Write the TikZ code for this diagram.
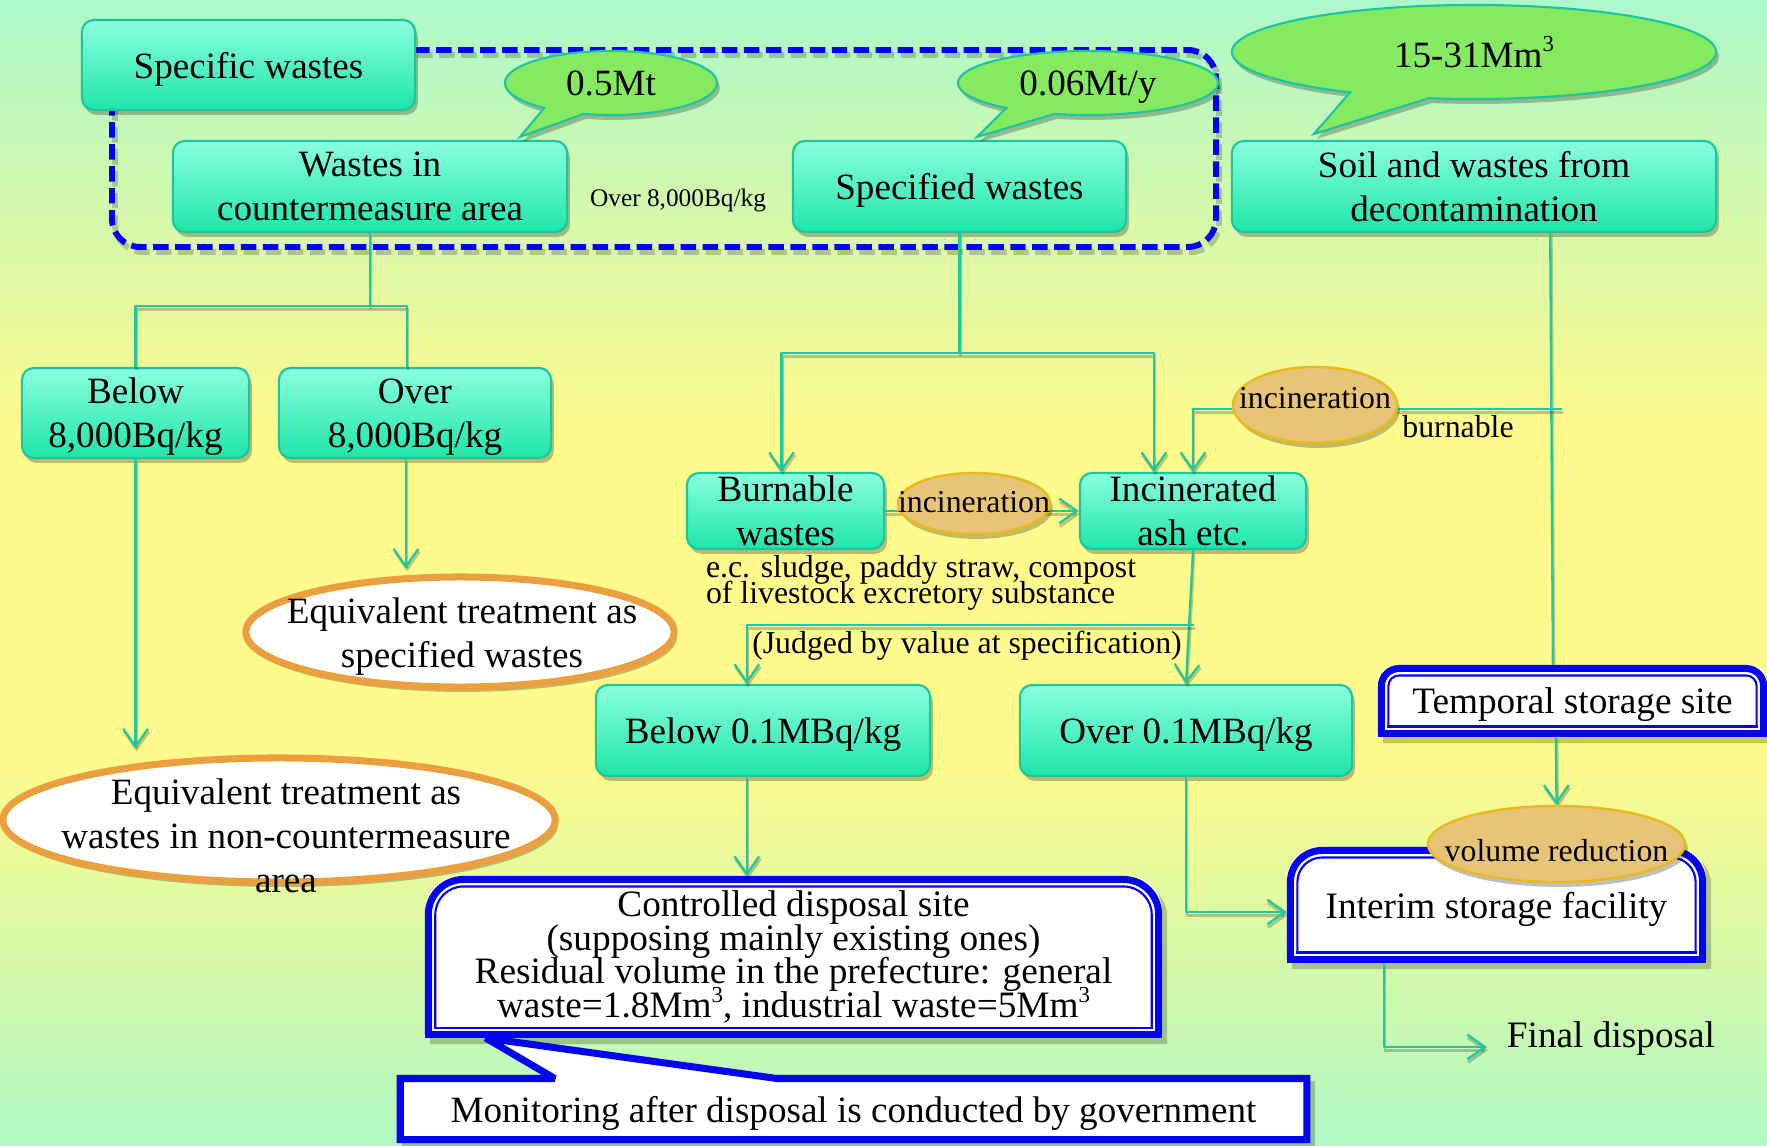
\documentclass[tikz,border=0pt]{standalone}
\usepackage{fontspec}
\setmainfont{Liberation Serif}
\usetikzlibrary{arrows.meta,calc,shapes.geometric,shapes.callouts,shadows}

\definecolor{bgtop}{RGB}{172,248,202}
\definecolor{bgmid}{RGB}{255,250,140}
\definecolor{bgbot}{RGB}{176,249,196}
\definecolor{tealtop}{RGB}{138,255,222}
\definecolor{tealbot}{RGB}{30,230,168}
\definecolor{tealedge}{RGB}{28,196,160}
\definecolor{linkc}{RGB}{30,200,160}
\definecolor{leafg}{RGB}{134,234,96}
\definecolor{tanfill}{RGB}{232,196,120}
\definecolor{tanedge}{RGB}{232,186,30}
\definecolor{orng}{RGB}{234,160,62}
\definecolor{frameblue}{RGB}{4,4,240}

% the picture's box maps onto 25bp..75bp of the shading
\pgfdeclareverticalshading{backdrop}{100bp}{color(0bp)=(bgbot); color(25bp)=(bgbot); color(42bp)=(bgmid); color(56bp)=(bgmid); color(75bp)=(bgtop); color(100bp)=(bgtop)}

\pgfdeclarelayer{back}
\pgfdeclarelayer{boxes}
\pgfdeclarelayer{front}
\pgfsetlayers{back,boxes,main,front}

\newcommand\mainfs{\fontsize{10.55}{12.5}\selectfont}
\newcommand\smallfs{\fontsize{9.05}{10.5}\selectfont}
\newcommand\notefs{\fontsize{7.2}{8.5}\selectfont}
\newcommand\boxfs{\fontsize{10.6}{12}\selectfont}
\newcommand\cdfs{\fontsize{10.6}{9.6}\selectfont\lineskiplimit=-20pt}
\newcommand\ecfs{\fontsize{9.05}{7.6}\selectfont\lineskiplimit=-20pt}

% white box with thick/thin blue border, rounded top corners, square bottom
\newcommand\dblframe[3]{%
  \fill[black,opacity=0.22,rounded corners=#2] ($(#1.south west)+(5,6)$) -- ($(#1.north west)+(5,6)$) -- ($(#1.north east)+(5,6)$) -- ($(#1.south east)+(5,6)$);
  \fill[white,rounded corners=#2] (#1.south west) -- (#1.north west) -- (#1.north east) -- (#1.south east);
  \draw[frameblue,line width=2pt,rounded corners=#2] ($(#1.south west)+(3.5,-3.5)$) -- ($(#1.north west)+(3.5,3.5)$) -- ($(#1.north east)+(-3.5,3.5)$) -- ($(#1.south east)+(-3.5,-3.5)$);
  \draw[frameblue,line width=2pt,line cap=rect] ($(#1.south west)+(3.5,-3.5)$) -- ($(#1.south east)+(-3.5,-3.5)$);
  \draw[frameblue,line width=0.6pt,rounded corners=#3] ($(#1.south west)+(10.5,-10.5)$) -- ($(#1.north west)+(10.5,10.5)$) -- ($(#1.north east)+(-10.5,10.5)$) -- ($(#1.south east)+(-10.5,-10.5)$);
  \draw[frameblue,line width=0.6pt,line cap=rect] ($(#1.south west)+(10.5,-10.5)$) -- ($(#1.south east)+(-10.5,-10.5)$);
}

\tikzset{
  softshadow/.style={drop shadow={shadow xshift=0.8pt, shadow yshift=-1.4pt, opacity=0.25, fill=black}},
  tbox/.style={rectangle, rounded corners=3.4pt, draw=tealedge, line width=0.6pt, top color=tealtop, bottom color=tealbot, inner sep=0pt, align=center, font=\mainfs, text depth=0pt, softshadow},
  bubble/.style={ellipse callout, draw=tealedge, line width=0.6pt, fill=leafg, inner sep=0pt, font=\mainfs, text depth=0pt, softshadow},
  tanell/.style={ellipse, draw=tanedge, line width=0.7pt, fill=tanfill, inner sep=0pt, font=\smallfs, softshadow},
  eqell/.style={ellipse, draw=orng, line width=2pt, fill=white, inner sep=0pt, softshadow},
  plain/.style={inner sep=0pt, outer sep=0pt},
  flow/.style={draw=linkc, line width=0.65pt, line join=round, preaction={draw=black, draw opacity=0.22, line width=0.8pt, transform canvas={xshift=0.3pt, yshift=-0.9pt}}},
  arr/.style={-{Straight Barb[length=5pt,width=7pt]}},
}

\begin{document}
\begin{tikzpicture}[x=0.01cm, y=-0.01cm]
\begin{pgfonlayer}{back}
  \fill[shading=backdrop] (0,0) rectangle (1767,1146);
\end{pgfonlayer}
\useasboundingbox (0,0) rectangle (1767,1146);

% dashed group frame
\begin{pgfonlayer}{boxes}
  \draw[black, opacity=0.2, line width=1.7pt, dash pattern=on 4.4pt off 1.85pt, rounded corners=8pt] (115,55) rectangle (1219,252);
  \draw[frameblue, line width=1.7pt, dash pattern=on 4.4pt off 1.85pt, rounded corners=8pt] (112,50) rectangle (1216,247);
\end{pgfonlayer}

% teal boxes
\node[tbox, minimum width=3.33cm, minimum height=0.90cm] (SPW) at (248.5,65) {Specific wastes};
\node[tbox, minimum width=3.94cm, minimum height=0.91cm] (W) at (370,186.5) {Wastes in\\countermeasure area};
\node[tbox, minimum width=3.33cm, minimum height=0.91cm] (SP) at (959.5,186.5) {Specified wastes};
\node[tbox, minimum width=4.84cm, minimum height=0.91cm] (SW) at (1474,186.5) {Soil and wastes from\\decontamination};
\node[tbox, minimum width=2.27cm, minimum height=0.90cm] (B8) at (135.5,413) {Below\\8,000Bq/kg};
\node[tbox, minimum width=2.72cm, minimum height=0.90cm] (O8) at (415,413) {Over\\8,000Bq/kg};
\node[tbox, minimum width=1.97cm, minimum height=0.76cm] (BW) at (785.5,511) {Burnable\\wastes};
\node[tbox, minimum width=2.26cm, minimum height=0.76cm] (IA) at (1193,511) {Incinerated\\ash etc.};
\node[tbox, minimum width=3.34cm, minimum height=0.91cm] (B01) at (763,730.5) {Below 0.1MBq/kg};
\node[tbox, minimum width=3.32cm, minimum height=0.91cm] (O01) at (1186,730.5) {Over 0.1MBq/kg};

% quantity callouts
\coordinate (p1) at ($(W.north)+(150,-3)$);
\coordinate (p2) at ($(SP.north)+(17.5,-3)$);
\coordinate (p3) at ($(SW.north)+(-160,-6)$);
\node[bubble, minimum width=2.12cm, minimum height=0.64cm, callout absolute pointer={(p1)}, callout pointer arc=24] (C1) at (611,83) {0.5Mt};
\node[bubble, minimum width=2.60cm, minimum height=0.64cm, callout absolute pointer={(p2)}, callout pointer arc=24] (C2) at (1088,83) {0.06Mt/y};
\node[bubble, minimum width=4.84cm, minimum height=0.94cm, callout absolute pointer={(p3)}, callout pointer arc=20] (C3) at (1474,52) {15-31Mm\raisebox{0.9ex}{\fontsize{6.5}{7}\selectfont 3}};

% plain labels
\node[plain, font=\notefs, anchor=base] (OV) at (678,207) {Over 8,000Bq/kg};
\node[plain, font=\ecfs, align=left, anchor=north west] (EC) at (706,555) {e.c. sludge, paddy straw, compost\\of livestock excretory substance};
\node[plain, font=\smallfs, anchor=base] (JB) at (967,653) {(Judged by value at specification)};
\node[plain, font=\smallfs, anchor=base] (BL) at (1458,438) {burnable};
\node[plain, font=\boxfs, anchor=base] (FD) at (1611,1047) {Final disposal};

% orange outcome ellipses
\node[eqell, minimum width=4.28cm, minimum height=1.10cm] (E1) at (460,632) {};
\node[plain, font=\mainfs, align=center] (E1t) at (462,637) {Equivalent treatment as\\specified wastes};
\node[eqell, minimum width=5.52cm, minimum height=1.24cm] (E2) at (279,820) {};
\node[plain, font=\mainfs, align=center] (E2t) at (286,836) {Equivalent treatment as\\wastes in non-countermeasure\\area};

% framed facilities
\node[plain, minimum width=3.89cm, minimum height=0.72cm, font=\boxfs, text depth=0pt] (T) at (1572.5,701) {Temporal storage site};
\node[plain, minimum width=4.19cm, minimum height=1.16cm, font=\boxfs, text depth=0pt] (ISF) at (1496.5,905) {Interim storage facility};
\node[plain, minimum width=7.37cm, minimum height=1.62cm, align=center, font=\cdfs] (CD) at (793.5,957) {Controlled disposal site\\(supposing mainly existing ones)\\Residual volume in the prefecture: general\\waste=1.8Mm\raisebox{0.9ex}{\fontsize{6.5}{7}\selectfont 3}, industrial waste=5Mm\raisebox{0.9ex}{\fontsize{6.5}{7}\selectfont 3}};
\node[plain, minimum width=9.13cm, minimum height=0.68cm, font=\mainfs, text depth=0pt] (MB) at (853.5,1109) {Monitoring after disposal is conducted by government};

\begin{pgfonlayer}{boxes}
  \dblframe{T}{5pt}{3pt}
  \dblframe{ISF}{9pt}{7pt}
  \dblframe{CD}{10pt}{8pt}
  % monitoring note with its pointer up to the disposal site
  \fill[black,opacity=0.22] ($(MB.north west)+(5,6)$) -- ($(MB.north east)+(5,6)$) -- ($(MB.south east)+(5,6)$) -- ($(MB.south west)+(5,6)$) -- cycle;
  \filldraw[fill=white, draw=frameblue, line width=2pt, miter limit=2]
    ($(MB.north west)+(3.5,3.5)$) -- ($(MB.north west)+(158,3.5)$) -- ($(CD.south west)+(61,0)$)
    -- ($(MB.north west)+(380,3.5)$) -- ($(MB.north east)+(-3.5,3.5)$) -- ($(MB.south east)+(-3.5,-3.5)$)
    -- ($(MB.south west)+(3.5,-3.5)$) -- cycle;
\end{pgfonlayer}

% process ellipses on top of the flow lines
\begin{pgfonlayer}{front}
  \node[tanell, minimum width=1.52cm, minimum height=0.61cm] (I1) at (974,503.5) {\makebox[0pt]{\raisebox{-2.7pt}[0pt][0pt]{incineration}}};
  \node[tanell, minimum width=1.64cm, minimum height=0.76cm] (I2) at (1315,405) {\makebox[0pt]{\raisebox{-0.9pt}[0pt][0pt]{incineration}}};
  \node[tanell, minimum width=2.57cm, minimum height=0.76cm] (VR) at (1556.5,844) {\makebox[0pt]{\raisebox{-5pt}[0pt][0pt]{volume reduction}}};
\end{pgfonlayer}

% flows
\coordinate (j1) at (370,306);
\draw[flow] (W.south) -- (j1);
\draw[flow] (B8.north) |- (j1) -| ($(O8.north)+(-8,0)$);
\draw[flow, arr] (B8.south) -- ($(B8.south |- E2.north)+(0,-6)$);
\draw[flow, arr] ($(O8.south)+(-9,0)$) -- ($(O8.south |- E1.north)+(-9,-5)$);

\coordinate (j2) at (959.5,353);
\draw[flow] (SP.south) -- (j2);
\draw[flow, arr] (j2) -| ($(BW.north)+(-4,0)$);
\draw[flow, arr] (j2) -| ($(IA.north west)+(75,0)$);
\draw[flow, arr] (BW.east) -- (IA.west);

\draw[flow] ($(SW.south east)+(-167,0)$) -- ($(T.north west)+(175,0)$);
\coordinate (j4) at (1562,409);
\draw[flow, arr] (j4) -| (IA.north);

\draw[flow, arr] (IA.south) -- (O01.north);
\coordinate (j3) at (1194,625);
\draw[flow, arr] (j3) -| ($(B01.north west)+(152,0)$);
\coordinate (k1) at ($(B01.south west)+(152,0)$);
\draw[flow, arr] (k1) -- (k1 |- CD.north);
\draw[flow, arr] (O01.south) |- ($(ISF.west)+(0,7)$);

\draw[flow, arr] ($(T.south west)+(178,0)$) -- (VR.north);
\coordinate (k2) at ($(ISF.south west)+(97,0)$);
\draw[flow, arr] (k2) |- ($(FD.base west)+(-20,0)$);
\end{tikzpicture}
\end{document}
